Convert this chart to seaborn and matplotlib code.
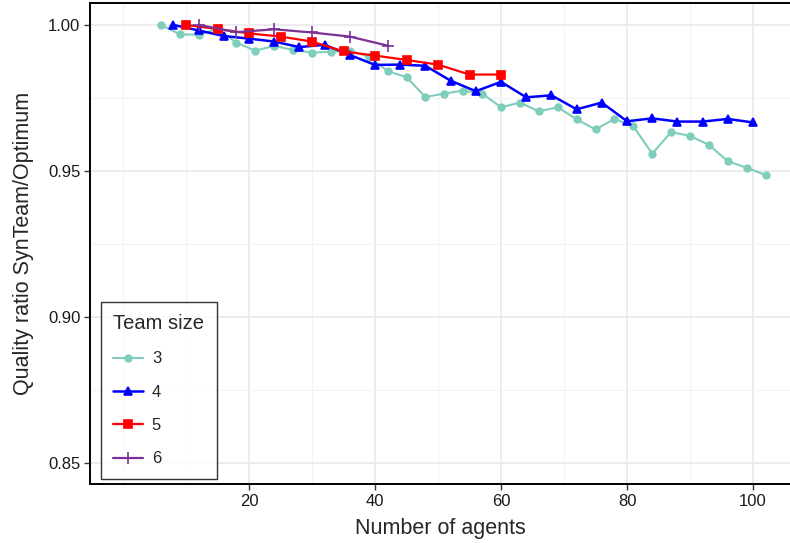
import pandas as pd
import matplotlib.pyplot as plt
import seaborn as sns

# Quality ratio SynTeam / Optimum by number of agents, one series per team size
agents_3 = [6, 9, 12, 15, 18, 21, 24, 27, 30, 33, 36, 39, 42, 45, 48, 51, 54,
            57, 60, 63, 66, 69, 72, 75, 78, 81, 84, 87, 90, 93, 96, 99, 102]
ratio_3 = [1.000, 0.9968, 0.9966, 0.9986, 0.9939, 0.9912, 0.9928, 0.9914,
           0.9905, 0.9908, 0.9912, 0.9891, 0.9842, 0.9821, 0.9753, 0.9765,
           0.9775, 0.9765, 0.9718, 0.9734, 0.9704, 0.9718, 0.9677, 0.9642,
           0.9678, 0.9653, 0.9559, 0.9633, 0.9620, 0.9589, 0.9533, 0.9511,
           0.9486]

agents_4 = [8, 12, 16, 20, 24, 28, 32, 36, 40, 44, 48, 52, 56, 60, 64, 68,
            72, 76, 80, 84, 88, 92, 96, 100]
ratio_4 = [1.000, 0.9981, 0.9962, 0.9953, 0.9943, 0.9924, 0.9932, 0.9897,
           0.9863, 0.9864, 0.9860, 0.9809, 0.9773, 0.9805, 0.9752, 0.9759,
           0.9711, 0.9734, 0.9670, 0.9680, 0.9669, 0.9669, 0.9678, 0.9666]

agents_5 = [10, 15, 20, 25, 30, 35, 40, 45, 50, 55, 60]
ratio_5 = [1.000, 0.9986, 0.9971, 0.9960, 0.9943, 0.9909, 0.9895, 0.9880,
           0.9864, 0.9830, 0.9830]

agents_6 = [12, 18, 24, 30, 36, 42]
ratio_6 = [1.000, 0.9975, 0.9985, 0.9974, 0.9960, 0.9929]

team_labels = ['3', '4', '5', '6']
colors = {'3': '#7fcdbb', '4': '#0000ff', '5': '#ff0000', '6': '#7b3294'}
markers = {'3': 'o', '4': '^', '5': 's', '6': '+'}
msizes = {'3': 4.8, '4': 6, '5': 5.2, '6': 9}
lwidths = {'3': 1.5, '4': 1.8, '5': 1.6, '6': 1.6}

frames = []
for lab, xs, ys in zip(team_labels, [agents_3, agents_4, agents_5, agents_6],
                       [ratio_3, ratio_4, ratio_5, ratio_6]):
    frames.append(pd.DataFrame({'agents': xs, 'ratio': ys, 'team': lab}))
data = pd.concat(frames, ignore_index=True)

sns.set_theme(style='white')
plt.rcParams['font.family'] = ['Liberation Sans', 'DejaVu Sans']

fig = plt.figure(figsize=(7.9, 5.43), dpi=100)
ax = fig.add_axes([90 / 790, 1 - 484 / 543, 700 / 790, 481 / 543])

# one call per team size (seaborn can't mix filled and line markers)
for lab in team_labels:
    sub = data[data['team'] == lab]
    sns.lineplot(data=sub, x='agents', y='ratio', color=colors[lab],
                 marker=markers[lab], markersize=msizes[lab],
                 markeredgecolor=colors[lab], markeredgewidth=1.2,
                 linewidth=lwidths[lab], label=lab, ax=ax)

ax.set_xlim(-5.24, 105.87)
ax.set_ylim(0.8428, 1.0075)
ax.set_xticks([20, 40, 60, 80, 100])
ax.set_yticks([0.85, 0.90, 0.95, 1.00])
ax.set_yticklabels(['0.85', '0.90', '0.95', '1.00'])
ax.set_xticks([0, 10, 30, 50, 70, 90], minor=True)
ax.set_yticks([0.875, 0.925, 0.975], minor=True)
ax.grid(which='major', color='#ebebeb', linewidth=1.3)
ax.grid(which='minor', color='#f2f2f2', linewidth=0.8)
ax.set_axisbelow(True)

ax.tick_params(axis='both', which='major', direction='out', length=4,
               width=1, color='#333333', labelsize=12, labelcolor='#1a1a1a',
               left=True, bottom=True, pad=3)
ax.tick_params(axis='both', which='minor', length=0)

for side in ['left', 'bottom', 'top']:
    ax.spines[side].set_color('black')
    ax.spines[side].set_linewidth(1.4)
ax.spines['right'].set_visible(False)

ax.set_xlabel('Number of agents', fontsize=15.5, labelpad=7)
ax.set_ylabel('Quality ratio SynTeam/Optimum', fontsize=15.5, labelpad=10)

handles, labels = ax.get_legend_handles_labels()
leg = ax.legend(handles, labels, title='Team size', loc='lower left',
                bbox_to_anchor=(0.0157, 0.0104), borderaxespad=0,
                fontsize=12, title_fontsize=14.5, frameon=True, fancybox=False,
                handlelength=1.8, labelspacing=1.1, borderpad=0.75,
                handletextpad=0.5)
leg.get_frame().set_edgecolor('black')
leg.get_frame().set_linewidth(1.0)
leg._legend_box.align = 'left'

fig.savefig('out.png', dpi=100)
